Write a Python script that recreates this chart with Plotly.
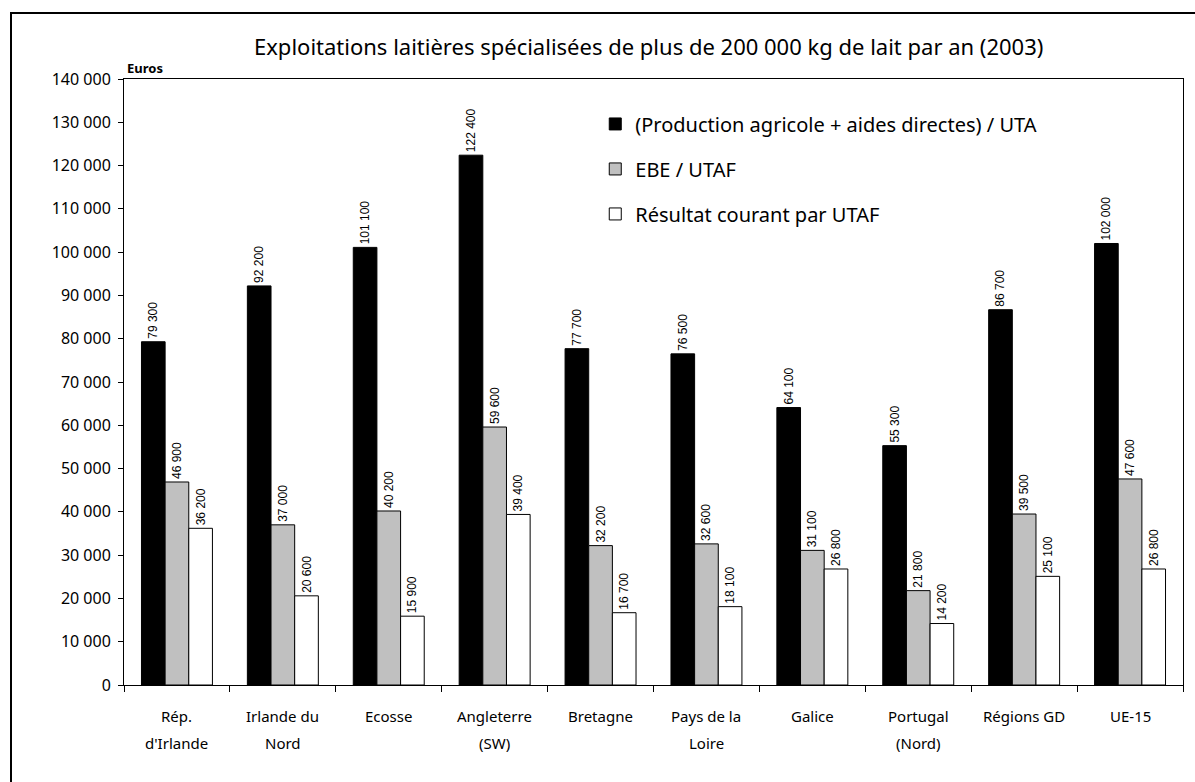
import plotly.graph_objects as go

# Dairy farm indicators by region, 2003 (euros)
categories = ["Rép.\nd'Irlande", "Irlande du\nNord", "Ecosse", "Angleterre\n(SW)", "Bretagne",
              "Pays de la\nLoire", "Galice", "Portugal\n(Nord)", "Régions GD", "UE-15"]
production_uta = [79300, 92200, 101100, 122400, 77700, 76500, 64100, 55300, 86700, 102000]
ebe_utaf = [46900, 37000, 40200, 59600, 32200, 32600, 31100, 21800, 39500, 47600]
resultat_utaf = [36200, 20600, 15900, 39400, 16700, 18100, 26800, 14200, 25100, 26800]

series_names = ["(Production agricole + aides directes) / UTA", "EBE / UTAF", "Résultat courant par UTAF"]
series_values = [production_uta, ebe_utaf, resultat_utaf]
series_colors = ["#000000", "#C0C0C0", "#FFFFFF"]

title_text = "Exploitations laitières spécialisées de plus de 200 000 kg de lait par an (2003)"
y_ticks = list(range(0, 140001, 10000))

MAIN_FONT = "Noto Sans"
NUM_FONT = "Liberation Sans"


def fmt(v):
    return f"{v:,}".replace(",", " ")


fig = go.Figure()
for name, vals, col in zip(series_names, series_values, series_colors):
    fig.add_trace(go.Bar(
        x=categories, y=vals, name=name, legendgroup=name,
        marker=dict(color=col, line=dict(color="#000000", width=1)),
        text=[fmt(v) for v in vals], textposition="outside", textangle=-90,
        constraintext="none",
        textfont=dict(family=NUM_FONT, size=12, color="#000000"),
        cliponaxis=False,
    ))

# two-line category labels under the axis
annotations = []
for c in categories:
    lines = c.split("\n")
    for i, ln in enumerate(lines):
        annotations.append(dict(
            x=c, xref="x", y=-0.051 - i * 0.0445, yref="paper",
            text=ln, showarrow=False, xanchor="center", yanchor="middle",
            font=dict(family=MAIN_FONT, size=15, color="#000000"),
        ))

annotations.append(dict(
    x=0.001, xref="paper", y=1.018, yref="paper", text="<b>Euros</b>",
    showarrow=False, xanchor="left", yanchor="middle",
    font=dict(family=MAIN_FONT, size=13, color="#000000"),
))
annotations.append(dict(
    x=0.495, xref="paper", y=1.0 + 33 / 606, yref="paper", text=title_text,
    showarrow=False, xanchor="center", yanchor="middle",
    font=dict(family=MAIN_FONT, size=22, color="#000000"),
))

fig.update_layout(
    width=1195, height=782,
    margin=dict(l=124, r=12, t=79, b=97),
    paper_bgcolor="#FFFFFF", plot_bgcolor="#FFFFFF",
    barmode="group", bargap=0.33, bargroupgap=0,
    separators=", ",
    showlegend=True,
    legend=dict(
        x=0.445, y=0.958, xanchor="left", yanchor="top",
        font=dict(family=MAIN_FONT, size=20, color="#000000"),
        bgcolor="rgba(0,0,0,0)", tracegroupgap=16, traceorder="grouped",
    ),
    annotations=annotations,
    shapes=[dict(type="rect", xref="paper", yref="paper",
                 x0=-113 / 1059, y0=-1.5, x1=2.0, y1=1 + 66 / 606,
                 line=dict(color="#000000", width=2), layer="below")],
    xaxis=dict(
        type="category", showticklabels=False, tickson="boundaries",
        ticks="outside", ticklen=6, tickcolor="#000000",
        showline=True, linecolor="#000000", linewidth=1, mirror=True,
        showgrid=False, zeroline=False,
    ),
    yaxis=dict(
        range=[0, 140000], tickvals=y_ticks, tickformat=",d",
        ticks="outside", ticklen=5, tickcolor="#000000",
        showline=True, linecolor="#000000", linewidth=1, mirror=True,
        showgrid=False, zeroline=False, ticklabelstandoff=4,
        tickfont=dict(family=MAIN_FONT, size=16, color="#000000"),
    ),
)

fig.write_html("out.html")
